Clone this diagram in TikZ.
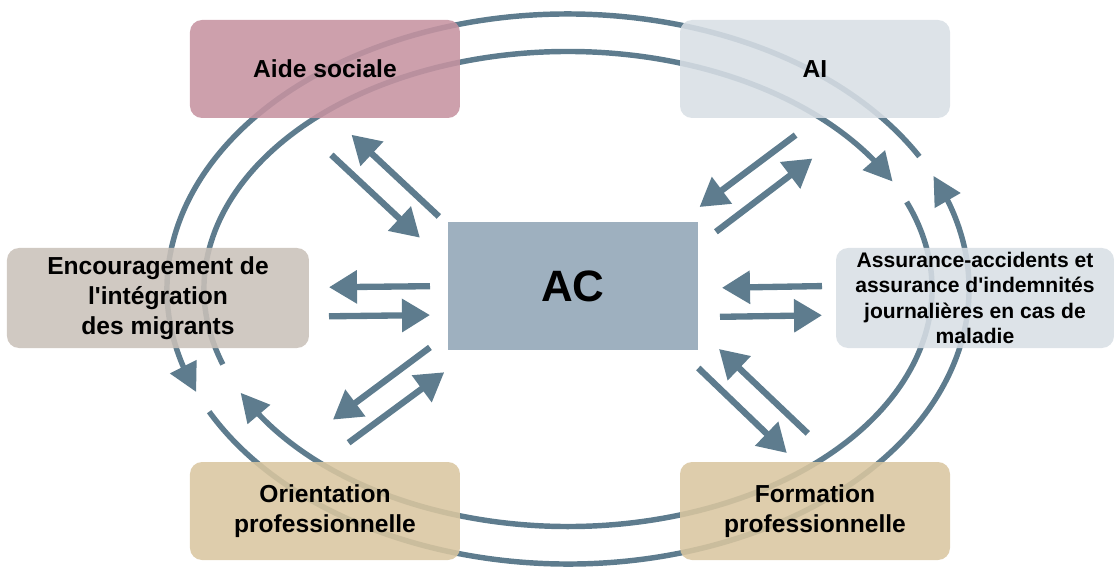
\documentclass[tikz,border=0pt]{standalone}
\usepackage{fontspec}
\setmainfont{Liberation Sans}
\usepackage{tikz}
\usetikzlibrary{arrows.meta, bending}

\definecolor{flowgray}{RGB}{94,124,142}
\definecolor{aidefill}{RGB}{198,147,161}
\definecolor{aifill}{RGB}{216,223,229}
\definecolor{encfill}{RGB}{202,193,185}
\definecolor{orientfill}{RGB}{218,198,160}
\definecolor{acfill}{RGB}{158,176,191}

\begin{document}
\begin{tikzpicture}[
  box/.style={rectangle, rounded corners=0.24cm, fill opacity=0.88, text opacity=1,
    minimum width=5.4cm, minimum height=1.96cm, inner sep=2pt, outer sep=0pt,
    align=center, font=\fontsize{14}{17}\selectfont\bfseries},
  flow/.style={draw=flowgray, line width=3.6pt, -{Triangle[length=0.56cm, width=0.64cm]}},
  ring/.style={draw=flowgray, line width=3.1pt, -{Triangle[length=0.57cm, width=0.57cm]}}
]
\useasboundingbox (-11.36,-5.56) rectangle (10.92,5.78);

% the two cycles
\draw[ring] (28.8:8.02 and 5.5) arc[start angle=28.8, end angle=202, x radius=8.02, y radius=5.5];
\draw[ring] (206.5:8.02 and 5.5) arc[start angle=206.5, end angle=384.3, x radius=8.02, y radius=5.5];
\draw[ring] (198.5:7.28 and 4.75) arc[start angle=198.5, end angle=26.9, x radius=7.28, y radius=4.75];
\draw[ring] (21.5:7.28 and 4.75) arc[start angle=21.5, end angle=-154.1, x radius=7.28, y radius=4.75];

\node[box, fill=aidefill] (aide) at (-4.86,4.40) {Aide sociale};
\node[box, fill=aifill] (ai) at (4.94,4.40) {AI};
\node[box, fill=encfill, minimum width=6.04cm, minimum height=2cm] (enc) at (-8.20,-0.18)
   {Encouragement de\\l\textquotesingle intégration\\des migrants};
\node[box, fill=aifill, minimum width=5.56cm, minimum height=2cm, font=\fontsize{12}{14.5}\selectfont\bfseries] (assur) at (8.14,-0.18)
   {Assurance-accidents et\\assurance d\textquotesingle indemnités\\journalières en cas de\\maladie};
\node[box, fill=orientfill] (orient) at (-4.86,-4.44) {Orientation\\professionnelle};
\node[box, fill=orientfill] (form) at (4.94,-4.44) {Formation\\professionnelle};

\node[rectangle, fill=acfill, minimum width=5cm, minimum height=2.56cm, outer sep=0pt,
   font=\fontsize{25}{30}\selectfont\bfseries] (ac) at (0.10,0.06) {AC};

% exchanges with AC
\draw[flow, shorten <=0.25cm, shorten >=0.49cm] (ac.154.6) -- (aide.280.6);
\draw[flow, shorten <=1.08cm, shorten >=0.77cm] (aide.236.7) -- (ac.170.2);
\draw[flow, shorten <=0.36cm, shorten >=0.40cm] (ac.180.5) -- (enc.4.2);
\draw[flow, shorten <=0.40cm, shorten >=0.36cm] (enc.353.6) -- (ac.193.1);
\draw[flow, shorten <=0.45cm, shorten >=1.42cm] (ac.201.3) -- (orient.135.6);
\draw[flow, shorten <=0.65cm, shorten >=0.75cm] (orient.93.7) -- (ac.213.5);
\draw[flow, shorten <=0.57cm, shorten >=0.50cm] (ai.274.6) -- (ac.31.2);
\draw[flow, shorten <=0.45cm, shorten >=1.34cm] (ac.18.8) -- (ai.316.6);
\draw[flow, shorten <=0.28cm, shorten >=0.48cm] (assur.175.5) -- (ac.359.5);
\draw[flow, shorten <=0.44cm, shorten >=0.28cm] (ac.346.9) -- (assur.187.0);
\draw[flow, shorten <=0.83cm, shorten >=0.58cm] (form.65.8) -- (ac.341.6);
\draw[flow, shorten <=0.52cm, shorten >=0.26cm] (ac.329.0) -- (form.111.9);
\end{tikzpicture}
\end{document}
